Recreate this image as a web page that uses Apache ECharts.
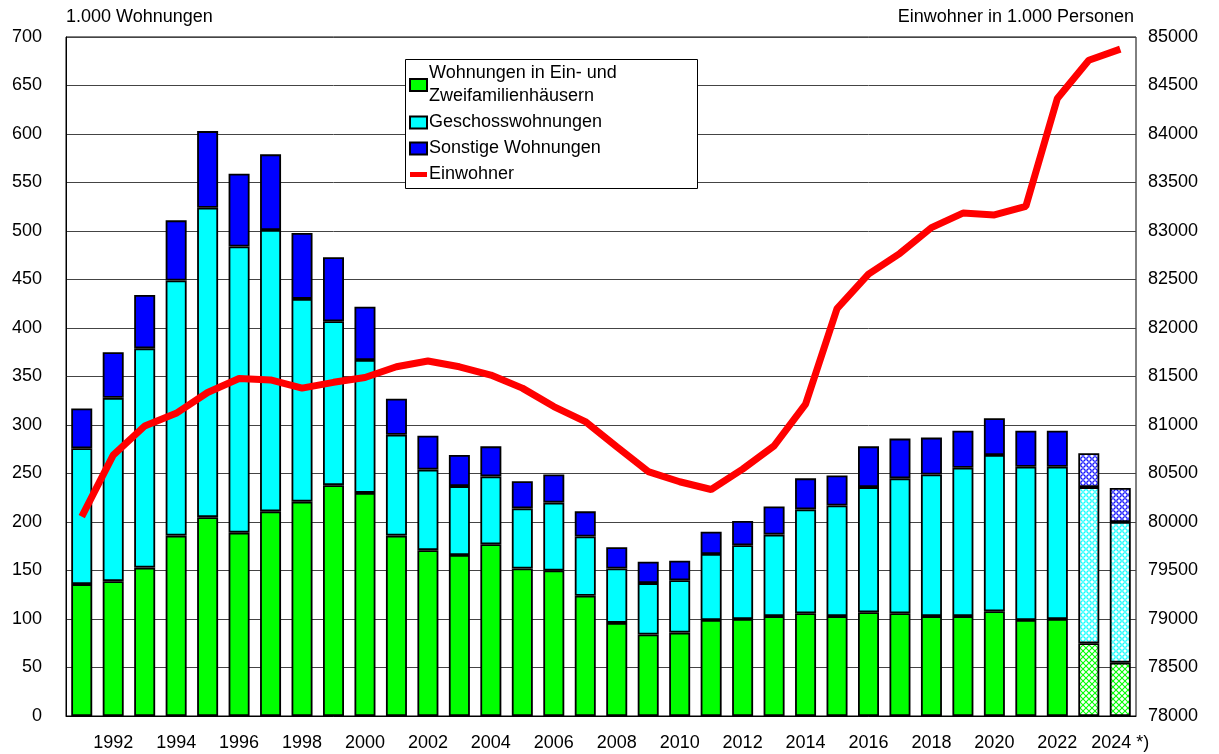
<!DOCTYPE html>
<html>
<head>
<meta charset="utf-8">
<script src="https://cdn.jsdelivr.net/npm/echarts@6/dist/echarts.min.js"></script>
<style>
  html, body { margin: 0; padding: 0; background: #fff; }
  #chart { width: 1219px; height: 754px; }
</style>
</head>
<body>
<div id="chart"></div>
<script>
const years = ['1991', '1992', '1993', '1994', '1995', '1996', '1997', '1998', '1999', '2000',
  '2001', '2002', '2003', '2004', '2005', '2006', '2007', '2008', '2009', '2010',
  '2011', '2012', '2013', '2014', '2015', '2016', '2017', '2018', '2019', '2020',
  '2021', '2022', '2023', '2024 *)']
// 1.000 Wohnungen
const einZweiFam = [136, 139, 153, 186, 205, 189, 211, 221, 238, 230, 186, 171, 166, 177, 152, 150, 124, 96, 84, 86,
  99, 100, 103, 106, 103, 107, 106, 103, 103, 108, 99, 100, 75, 55]
const geschoss = [140, 189, 226, 263, 319, 295, 290, 209, 169, 137, 104, 83, 71, 70, 62, 70, 61, 56, 53, 54,
  68, 76, 84, 107, 114, 129, 139, 146, 153, 161, 158, 157, 161, 145]
const sonstige = [41, 47, 55, 62, 79, 75, 78, 68, 66, 55, 37, 35, 32, 31, 28, 29, 26, 22, 22, 20,
  23, 25, 29, 32, 31, 42, 41, 38, 38, 38, 37, 37, 35, 35]
// Einwohner in 1.000 Personen
const einwohner = [80055, 80690, 80990, 81120, 81335, 81480, 81465, 81380, 81440, 81490,
  81600, 81660, 81600, 81515, 81380, 81190, 81035, 80775, 80520, 80415,
  80335, 80545, 80785, 81215, 82200, 82555, 82770, 83035, 83185, 83165,
  83255, 84365, 84760, 84875]
const forecastFrom = 32 // 2023 und 2024 sind geschätzt (schraffiert)

const font = 'Liberation Sans, Arial, sans-serif'

// Schraffur fuer die Schaetzwerte
const hatch = (color, cross) => {
  const c = document.createElement('canvas')
  c.width = 6
  c.height = 6
  const g = c.getContext('2d')
  g.fillStyle = '#fff'
  g.fillRect(0, 0, 6, 6)
  g.strokeStyle = color
  g.lineWidth = 1.1
  g.beginPath()
  if (cross) {
    g.moveTo(0, 0); g.lineTo(6, 6)
    g.moveTo(6, 0); g.lineTo(0, 6)
  } else {
    g.arc(3, 3, 2.2, 0, Math.PI * 2)
  }
  g.stroke()
  return { image: c, repeat: 'repeat' }
}

const barData = (values, color, cross) => values.map((v, i) => {
  if (i < forecastFrom) return v
  return { value: v, itemStyle: { color: hatch(color, cross) } }
})

const barSeries = (name, values, color, cross) => ({
  name,
  type: 'bar',
  stack: 'w',
  barWidth: 21,
  data: barData(values, color, cross),
  itemStyle: { color, borderColor: '#000', borderWidth: 1.8 },
  z: 3
})

const myChart = echarts.init(document.getElementById('chart'))
const option = {
  animation: false,
  backgroundColor: '#fff',
  textStyle: { fontFamily: font },
  grid: {
    left: 66,
    right: 83,
    top: 37,
    bottom: 38,
    show: true,
    borderColor: '#000',
    borderWidth: 1
  },
  graphic: [
    { type: 'text', left: 66, top: 8, style: { text: '1.000 Wohnungen', font: '18px ' + font, fill: '#000' } },
    { type: 'text', right: 85, top: 8, style: { text: 'Einwohner in 1.000 Personen', font: '18px ' + font, fill: '#000' } },
    {
      type: 'rect', left: 405, top: 59, z: 20,
      shape: { width: 292, height: 129 },
      style: { fill: '#fff', stroke: '#000', lineWidth: 1 }
    }
  ],
  legend: {
    orient: 'vertical',
    left: 405,
    top: 60,
    z: 30,
    padding: [2, 4],
    itemGap: 3,
    itemWidth: 17,
    itemHeight: 12,
    selectedMode: false,
    textStyle: { color: '#000', fontSize: 18, lineHeight: 23, fontFamily: font, padding: [0, 0, 0, -3] },
    data: [
      { name: 'Wohnungen in Ein- und\nZweifamilienhäusern', icon: 'rect' },
      { name: 'Geschosswohnungen', icon: 'rect' },
      { name: 'Sonstige Wohnungen', icon: 'rect' },
      { name: 'Einwohner', icon: 'path://M0,0h17v5h-17z', itemStyle: { color: '#f00', borderWidth: 0 } }
    ]
  },
  xAxis: {
    type: 'category',
    data: years,
    axisLine: { lineStyle: { color: '#000' } },
    axisTick: { show: false },
    axisLabel: {
      color: '#000',
      fontSize: 18,
      margin: 18,
      interval: (index) => index % 2 === 1
    }
  },
  yAxis: [
    {
      type: 'value',
      min: 0,
      max: 700,
      interval: 50,
      axisLine: { show: true, lineStyle: { color: '#000' } },
      axisTick: { show: false },
      axisLabel: { color: '#000', fontSize: 18, margin: 24 },
      splitLine: { lineStyle: { color: '#444', width: 1 } }
    },
    {
      type: 'value',
      min: 78000,
      max: 85000,
      interval: 500,
      position: 'right',
      axisLine: { show: false },
      axisTick: { show: false },
      axisLabel: { color: '#000', fontSize: 18, margin: 12, formatter: (v) => String(v) },
      splitLine: { show: false }
    }
  ],
  series: [
    barSeries('Wohnungen in Ein- und\nZweifamilienhäusern', einZweiFam, '#00ff00', true),
    barSeries('Geschosswohnungen', geschoss, '#00ffff', false),
    barSeries('Sonstige Wohnungen', sonstige, '#0000ff', false),
    {
      name: 'Einwohner',
      type: 'line',
      yAxisIndex: 1,
      data: einwohner,
      symbol: 'none',
      lineStyle: { color: '#ff0000', width: 7 },
      itemStyle: { color: '#ff0000' },
      z: 5
    }
  ]
}
myChart.setOption(option)
</script>
</body>
</html>
